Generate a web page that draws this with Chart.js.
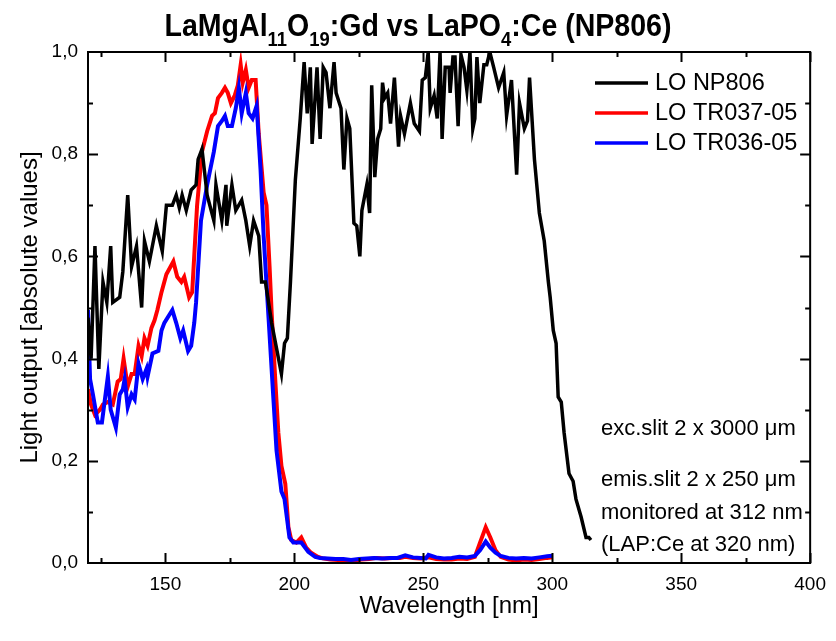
<!DOCTYPE html>
<html>
<head>
<meta charset="utf-8">
<script src="https://cdn.jsdelivr.net/npm/chart.js@4.4.1/dist/chart.umd.min.js"></script>
<style>
  html, body { margin: 0; padding: 0; background: #fff; }
  #wrap { width: 836px; height: 641px; }
</style>
</head>
<body>
<div id="wrap"><canvas id="loChart" width="836" height="641"></canvas></div>
<script>
// Light output vs wavelength
const np806Wl = [120.0, 121.2, 122.7, 124.2, 125.8, 127.3, 128.8, 129.6, 132.3, 133.5, 135.4, 136.9, 138.8, 140.8, 141.9, 143.8, 146.5, 148.8, 150.4, 152.7,
  154.2, 155.4, 156.5, 158.1, 160.0, 161.9, 162.7, 164.2, 166.2, 168.8, 169.6, 171.9, 173.5, 173.8, 175.8, 177.3, 179.6, 181.2, 182.7, 184.2,
  186.2, 187.3, 188.8, 191.2, 193.1, 195.0, 196.2, 197.3, 198.5, 200.4, 202.3, 203.8, 205.0, 206.2, 206.9, 208.8, 210.0, 211.2, 212.3, 213.8,
  215.4, 216.2, 218.1, 219.2, 220.4, 221.5, 223.1, 224.2, 225.4, 226.2, 228.1, 229.2, 230.0, 231.2, 232.3, 233.5, 234.2, 235.0, 236.2, 237.3,
  238.8, 240.4, 241.2, 242.7, 245.0, 246.5, 248.5, 249.6, 250.8, 251.9, 252.7, 254.2, 255.4, 256.5, 257.3, 258.5, 260.0, 260.4, 261.5, 262.3,
  263.5, 264.6, 265.8, 266.9, 268.1, 269.2, 270.0, 270.8, 271.9, 273.5, 274.6, 275.8, 277.3, 279.2, 281.2, 282.3, 284.2, 286.2, 287.3, 289.2,
  290.4, 291.2, 293.1, 295.0, 296.9, 298.5, 299.2, 300.4, 301.5, 302.3, 303.5, 304.6, 306.5, 308.1, 309.2, 311.2, 313.1, 314.2, 315.0];
const np806Lo = [0.48, 0.40, 0.62, 0.38, 0.55, 0.51, 0.62, 0.51, 0.52, 0.57, 0.72, 0.58, 0.62, 0.50, 0.63, 0.59, 0.66, 0.61, 0.70, 0.70,
  0.72, 0.695, 0.72, 0.69, 0.73, 0.74, 0.79, 0.81, 0.72, 0.67, 0.74, 0.67, 0.74, 0.66, 0.74, 0.69, 0.71, 0.67, 0.62, 0.67,
  0.64, 0.55, 0.55, 0.47, 0.42, 0.37, 0.43, 0.44, 0.55, 0.75, 0.87, 0.98, 0.88, 0.97, 0.82, 0.97, 0.83, 0.97, 0.96, 0.89,
  0.98, 0.92, 0.89, 0.77, 0.87, 0.85, 0.665, 0.66, 0.60, 0.69, 0.74, 0.685, 0.935, 0.755, 0.83, 0.85, 0.94, 0.91, 0.92, 0.86,
  0.95, 0.815, 0.875, 0.84, 0.90, 0.86, 0.845, 0.945, 0.95, 1.0, 0.89, 0.915, 0.87, 1.0, 0.83, 0.97, 0.97, 0.92, 0.99, 0.99,
  0.855, 0.995, 0.97, 0.925, 1.0, 0.85, 0.87, 0.99, 0.90, 0.975, 0.975, 1.0, 0.97, 0.93, 0.96, 0.875, 0.945, 0.76, 0.90, 0.85,
  0.865, 0.95, 0.79, 0.685, 0.63, 0.55, 0.52, 0.455, 0.43, 0.325, 0.315, 0.255, 0.175, 0.16, 0.125, 0.09, 0.05, 0.05, 0.045];

const tr037Wl = [120.0, 121.2, 122.7, 124.6, 125.8, 127.7, 129.6, 131.5, 132.7, 133.8, 135.4, 136.9, 138.1, 139.6, 140.8, 141.9, 143.1, 144.6, 145.8, 146.9,
  148.5, 150.4, 153.1, 154.6, 156.2, 157.3, 159.2, 160.4, 162.3, 164.2, 166.2, 168.1, 169.2, 170.4, 171.9, 173.1, 174.2, 175.4, 176.9, 178.1,
  179.2, 180.0, 181.2, 182.3, 183.5, 185.0, 186.2, 188.1, 189.2, 190.4, 191.2, 192.7, 193.8, 195.0, 196.5, 197.7, 198.8, 200.8, 202.7, 204.6,
  206.5, 209.2, 211, 214, 217, 220, 223, 226, 229, 232, 235, 238, 241, 243, 246, 249, 252, 255, 258, 261,
  264, 267, 270, 272, 274.2, 276, 278, 280, 283, 286, 289, 292, 295, 298, 300];
const tr037Lo = [0.34, 0.31, 0.29, 0.30, 0.31, 0.315, 0.31, 0.355, 0.36, 0.40, 0.345, 0.37, 0.37, 0.425, 0.405, 0.44, 0.425, 0.46, 0.475, 0.495,
  0.53, 0.565, 0.59, 0.56, 0.55, 0.56, 0.52, 0.53, 0.70, 0.805, 0.845, 0.875, 0.88, 0.91, 0.92, 0.93, 0.92, 0.90, 0.915, 0.935,
  0.975, 0.94, 0.965, 0.93, 0.945, 0.945, 0.84, 0.725, 0.70, 0.58, 0.49, 0.35, 0.255, 0.19, 0.155, 0.07, 0.045, 0.04, 0.05, 0.03,
  0.02, 0.012, 0.009, 0.007, 0.006, 0.005, 0.005, 0.007, 0.008, 0.010, 0.009, 0.010, 0.010, 0.012, 0.010, 0.009, 0.011, 0.008, 0.007, 0.007,
  0.009, 0.008, 0.012, 0.040, 0.070, 0.050, 0.025, 0.012, 0.007, 0.005, 0.007, 0.006, 0.008, 0.010, 0.011];

const tr036Wl = [120.0, 120.8, 121.9, 123.8, 125.4, 127.7, 128.8, 130.8, 132.3, 133.5, 134.2, 135.4, 136.9, 138.1, 139.6, 141.2, 142.7, 143.1, 145.0, 147.3,
  148.5, 149.6, 152.7, 154.2, 155.8, 156.9, 158.8, 160.0, 161.2, 161.9, 163.8, 166.2, 168.8, 170.4, 171.9, 173.1, 174.2, 175.8, 177.3, 178.5,
  179.6, 181.2, 182.3, 183.8, 185.4, 186.9, 188.1, 190.0, 191.9, 193.1, 195.0, 196.2, 198.1, 199.6, 202.7, 205.4, 208.1, 210, 213, 216,
  219, 222, 225, 228, 231, 234, 237, 240, 243, 246, 249, 251, 252, 255, 258, 261, 264, 267, 270, 272,
  274.2, 276, 278, 280, 283, 286, 289, 292, 295, 298, 300];
const tr036Lo = [0.495, 0.36, 0.33, 0.275, 0.275, 0.365, 0.30, 0.265, 0.33, 0.34, 0.36, 0.305, 0.33, 0.32, 0.39, 0.36, 0.38, 0.365, 0.41, 0.415,
  0.455, 0.47, 0.495, 0.47, 0.44, 0.455, 0.415, 0.425, 0.47, 0.51, 0.67, 0.74, 0.805, 0.855, 0.865, 0.875, 0.855, 0.855, 0.89, 0.93,
  0.88, 0.92, 0.88, 0.87, 0.895, 0.77, 0.64, 0.48, 0.32, 0.22, 0.14, 0.125, 0.05, 0.04, 0.04, 0.022, 0.012, 0.010, 0.009, 0.008,
  0.008, 0.006, 0.008, 0.009, 0.010, 0.009, 0.010, 0.010, 0.015, 0.011, 0.010, 0.009, 0.016, 0.011, 0.009, 0.010, 0.012, 0.011, 0.014, 0.025,
  0.042, 0.030, 0.020, 0.014, 0.010, 0.009, 0.010, 0.009, 0.011, 0.013, 0.014];

const seriesLabels = ['LO NP806', 'LO TR037-05', 'LO TR036-05'];
const seriesColors = ['#000000', '#ff0000', '#0000ff'];

const xMajorTicks = [150, 200, 250, 300, 350, 400];
const xMinorTicks = [125, 175, 225, 275, 325, 375];
const yMajorTicks = [0, 0.2, 0.4, 0.6, 0.8, 1.0];
const yMinorTicks = [0.1, 0.3, 0.5, 0.7, 0.9];

const notes = ['exc.slit 2 x 3000 \u03bcm', 'emis.slit 2 x 250 \u03bcm', 'monitored at 312 nm', '(LAP:Ce at 320 nm)'];

const FONT = "'Liberation Sans', Arial, sans-serif";

function toPoints(xs, ys) {
    return xs.map((x, i) => ({ x: x, y: ys[i] }));
}

// Frame with inward ticks on all four sides
const frameTicks = {
    id: 'frameTicks',
    afterDatasetsDraw(chart) {
        const { ctx, chartArea: a, scales } = chart;
        ctx.save();
        ctx.strokeStyle = '#000';
        ctx.lineWidth = 2;
        ctx.strokeRect(a.left, a.top, a.right - a.left, a.bottom - a.top);
        const mark = (vals, len, horizontal) => {
            vals.forEach(v => {
                ctx.beginPath();
                if (horizontal) {
                    const px = Math.round(scales.x.getPixelForValue(v)) + 0.5;
                    ctx.moveTo(px, a.bottom); ctx.lineTo(px, a.bottom - len);
                    ctx.moveTo(px, a.top); ctx.lineTo(px, a.top + len);
                } else {
                    const py = Math.round(scales.y.getPixelForValue(v)) + 0.5;
                    ctx.moveTo(a.left, py); ctx.lineTo(a.left + len, py);
                    ctx.moveTo(a.right, py); ctx.lineTo(a.right - len, py);
                }
                ctx.stroke();
            });
        };
        mark(xMajorTicks, 10, true);
        mark(xMinorTicks, 5, true);
        mark(yMajorTicks.slice(1, -1), 10, false);
        mark(yMinorTicks, 5, false);
        ctx.restore();
    }
};

// Title with subscripts, legend and measurement notes
const textBits = {
    id: 'textBits',
    afterDraw(chart) {
        const ctx = chart.ctx;
        ctx.save();
        ctx.fillStyle = '#000';
        ctx.textBaseline = 'alphabetic';

        // title: pieces of [text, subscript?]
        const parts = [['LaMgAl', 0], ['11', 1], ['O', 0], ['19', 1], [':Gd vs LaPO', 0], ['4', 1], [':Ce (NP806)', 0]];
        const big = 'bold 31px ' + FONT, small = 'bold 20px ' + FONT;
        let w = 0;
        parts.forEach(p => { ctx.font = p[1] ? small : big; w += ctx.measureText(p[0]).width; });
        const targetW = 507, sx = targetW / w;
        ctx.translate(418 - targetW / 2, 0);
        ctx.scale(sx, 1);
        let cx = 0;
        parts.forEach(p => {
            ctx.font = p[1] ? small : big;
            ctx.fillText(p[0], cx, p[1] ? 46 : 36);
            cx += ctx.measureText(p[0]).width;
        });
        ctx.setTransform(1, 0, 0, 1, 0, 0);

        // legend
        ctx.font = '23.5px ' + FONT;
        const rows = [83, 113, 143];
        chart.data.datasets.forEach((ds, i) => {
            ctx.strokeStyle = ds.borderColor;
            ctx.lineWidth = 3.5;
            ctx.beginPath();
            ctx.moveTo(595, rows[i]);
            ctx.lineTo(648, rows[i]);
            ctx.stroke();
            ctx.textBaseline = 'middle';
            ctx.fillText(ds.label, 655, rows[i] + 1);
        });

        // notes
        ctx.textBaseline = 'alphabetic';
        ctx.font = '22px ' + FONT;
        const noteY = [435, 486, 519, 551];
        notes.forEach((t, i) => ctx.fillText(t, 601, noteY[i]));
        ctx.restore();
    }
};

const datasets = [
    toPoints(np806Wl, np806Lo),
    toPoints(tr037Wl, tr037Lo),
    toPoints(tr036Wl, tr036Lo)
].map((pts, i) => ({
    label: seriesLabels[i],
    data: pts,
    borderColor: seriesColors[i],
    backgroundColor: seriesColors[i],
    borderWidth: i === 0 ? 3.5 : 4,
    pointRadius: 0,
    tension: 0,
    fill: false
}));

// draw black on top of red/blue like the original
datasets[0].order = 0;
datasets[1].order = 2;
datasets[2].order = 1;

new Chart(document.getElementById('loChart'), {
    type: 'line',
    data: { datasets: datasets },
    options: {
        responsive: false,
        animation: false,
        devicePixelRatio: 1,
        layout: { padding: { left: 0, right: 18, top: 52, bottom: 0 } },
        plugins: {
            legend: { display: false },
            tooltip: { enabled: false },
            title: { display: false }
        },
        scales: {
            x: {
                type: 'linear',
                min: 120,
                max: 400,
                afterBuildTicks: s => { s.ticks = xMajorTicks.map(v => ({ value: v })); },
                afterFit: s => { s.height = 78; },
                grid: { display: false, drawTicks: false },
                border: { display: false },
                ticks: {
                    autoSkip: false,
                    maxRotation: 0,
                    padding: 10,
                    color: '#000',
                    font: { family: FONT, size: 19 }
                },
                title: {
                    display: true,
                    text: 'Wavelength [nm]',
                    color: '#000',
                    font: { family: FONT, size: 24 },
                    padding: { top: 0, bottom: 20 }
                }
            },
            y: {
                min: 0,
                max: 1,
                afterBuildTicks: s => { s.ticks = yMajorTicks.map(v => ({ value: v })); },
                afterFit: s => { s.width = 88; },
                grid: { display: false, drawTicks: false },
                border: { display: false },
                ticks: {
                    padding: 10,
                    color: '#000',
                    font: { family: FONT, size: 19 },
                    callback: v => v.toFixed(1).replace('.', ',')
                },
                title: {
                    display: true,
                    text: 'Light output [absolute values]',
                    color: '#000',
                    font: { family: FONT, size: 24 },
                    padding: { top: 16, bottom: 0 }
                }
            }
        }
    },
    plugins: [frameTicks, textBits]
});
</script>
</body>
</html>
